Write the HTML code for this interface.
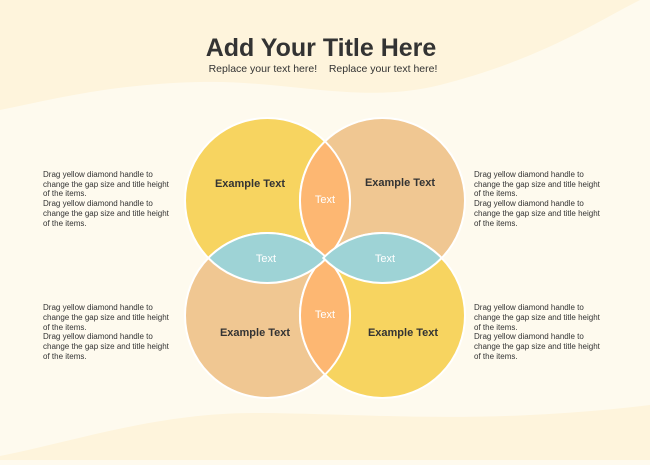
<!DOCTYPE html>
<html><head><meta charset="utf-8"><style>
html,body{margin:0;padding:0;}
body{width:650px;height:460px;overflow:hidden;background:#FEFAEE;font-family:"Liberation Sans",Arial,sans-serif;}
</style></head><body>
<svg width="650" height="460" viewBox="0 0 650 460" xmlns="http://www.w3.org/2000/svg" font-family="Liberation Sans, Arial, sans-serif">
<rect width="650" height="460" fill="#FEFAEE"/>
<path d="M0 0 H640 C600 20 540 60 440 85 C360 105 290 80 200 82 C110 84 50 100 0 110 Z" fill="#FEF4DC"/>
<path d="M0 460 V456 C80 440 160 412 260 413 C380 414 480 425 650 405 V460 Z" fill="#FEF4DC"/>
<g stroke="#fff" stroke-width="2">
<circle cx="267.5" cy="200.5" r="82.5" fill="#F7D460"/>
<circle cx="382.5" cy="200.5" r="82.5" fill="#F0C792"/>
<circle cx="267.5" cy="315.5" r="82.5" fill="#F0C792"/>
<circle cx="382.5" cy="315.5" r="82.5" fill="#F7D460"/>
<path d="M325 141.3 A82.5 82.5 0 0 1 325 259.7 A82.5 82.5 0 0 1 325 141.3 Z" fill="#FDB772"/>
<path d="M325 256.3 A82.5 82.5 0 0 1 325 374.7 A82.5 82.5 0 0 1 325 256.3 Z" fill="#FDB772"/>
<path d="M208.3 258 A82.5 82.5 0 0 1 326.7 258 A82.5 82.5 0 0 1 208.3 258 Z" fill="#9ED3D6"/>
<path d="M323.3 258 A82.5 82.5 0 0 1 441.7 258 A82.5 82.5 0 0 1 323.3 258 Z" fill="#9ED3D6"/>
</g>
<g font-size="11" font-weight="bold" fill="#333" text-anchor="middle">
<text x="250" y="187">Example Text</text>
<text x="400" y="186">Example Text</text>
<text x="255" y="336">Example Text</text>
<text x="403" y="336">Example Text</text>
</g>
<g font-size="11" fill="#fff" text-anchor="middle">
<text x="325" y="203">Text</text>
<text x="266" y="262">Text</text>
<text x="385" y="262">Text</text>
<text x="325" y="318">Text</text>
</g>
<text x="321" y="56" font-size="25" font-weight="bold" fill="#333" text-anchor="middle">Add Your Title Here</text>
<text x="323" y="72" font-size="10.5" fill="#333" text-anchor="middle" xml:space="preserve">Replace your text here!    Replace your text here!</text>
<g font-size="8" fill="#333">
<text x="43" y="177">Drag yellow diamond handle to</text><text x="43" y="187">change the gap size and title height</text><text x="43" y="196">of the items.</text>
<text x="43" y="206">Drag yellow diamond handle to</text><text x="43" y="216">change the gap size and title height</text><text x="43" y="226">of the items.</text>
<text x="474" y="177">Drag yellow diamond handle to</text><text x="474" y="187">change the gap size and title height</text><text x="474" y="196">of the items.</text>
<text x="474" y="206">Drag yellow diamond handle to</text><text x="474" y="216">change the gap size and title height</text><text x="474" y="226">of the items.</text>
<text x="43" y="310">Drag yellow diamond handle to</text><text x="43" y="320">change the gap size and title height</text><text x="43" y="330">of the items.</text>
<text x="43" y="339">Drag yellow diamond handle to</text><text x="43" y="349">change the gap size and title height</text><text x="43" y="359">of the items.</text>
<text x="474" y="310">Drag yellow diamond handle to</text><text x="474" y="320">change the gap size and title height</text><text x="474" y="330">of the items.</text>
<text x="474" y="339">Drag yellow diamond handle to</text><text x="474" y="349">change the gap size and title height</text><text x="474" y="359">of the items.</text>
</g>
</svg>
</body></html>
